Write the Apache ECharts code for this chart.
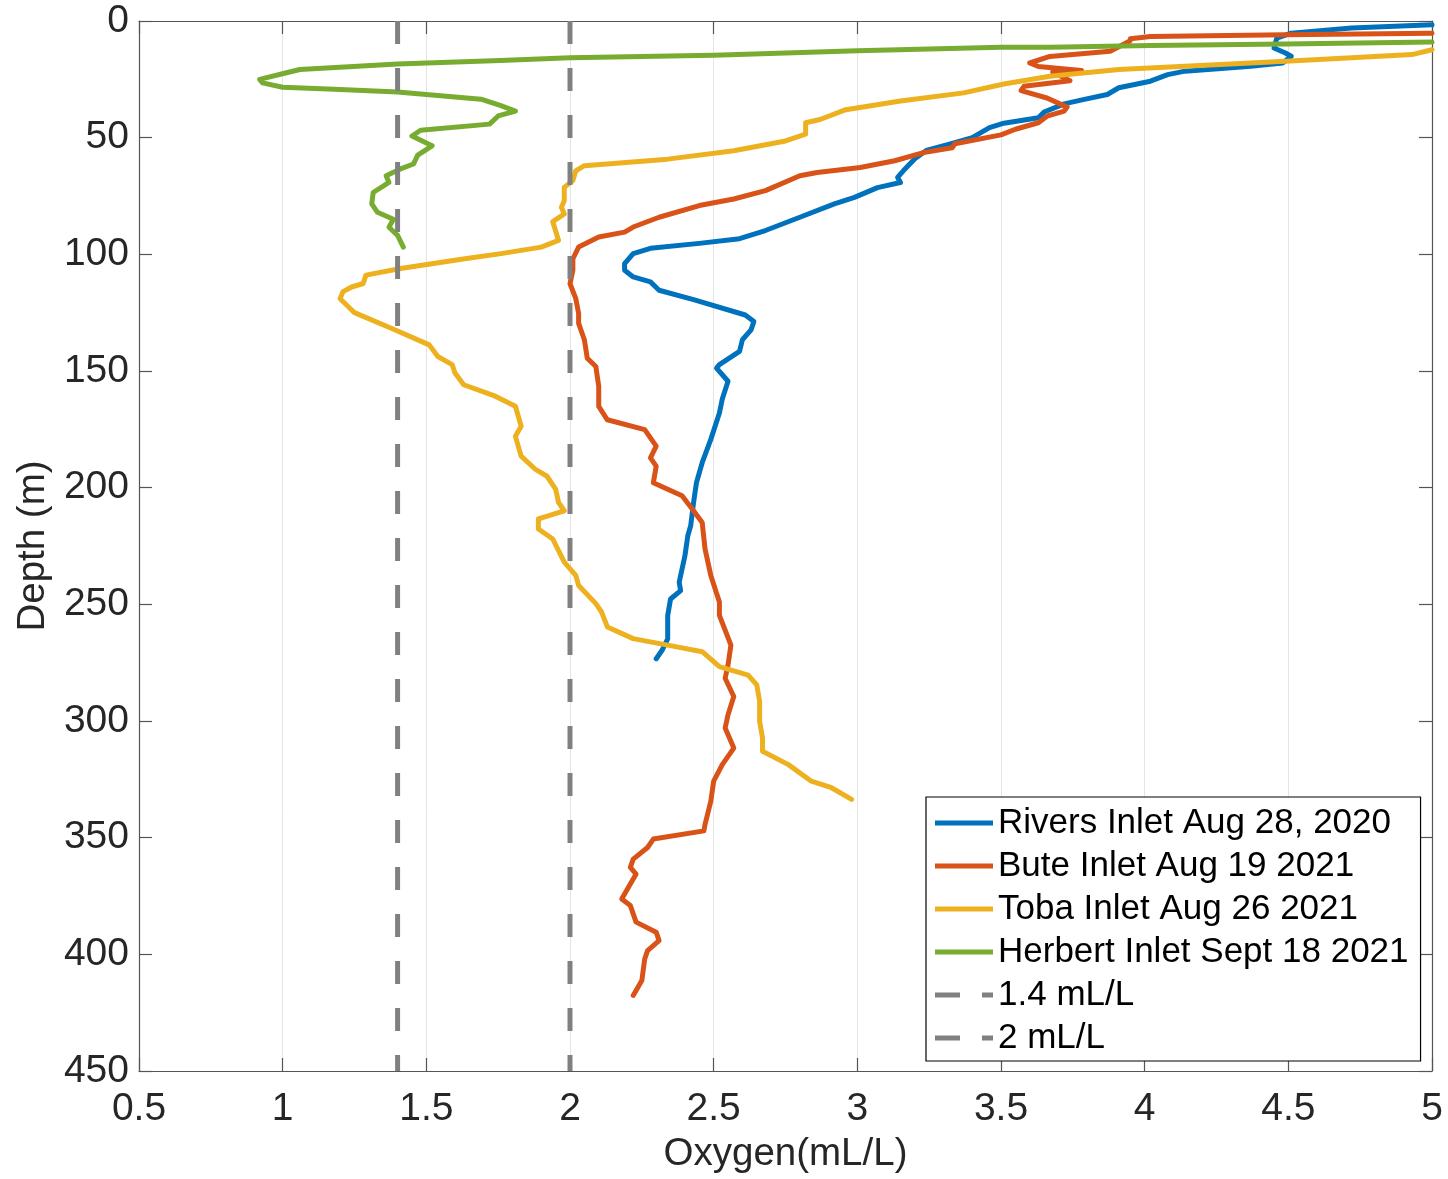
<!DOCTYPE html>
<html>
<head>
<meta charset="utf-8">
<script src="https://cdn.jsdelivr.net/npm/echarts@6/dist/echarts.min.js"></script>
<style>
html,body{margin:0;padding:0;background:#fff;}
#chart{width:1448px;height:1179px;}
</style>
</head>
<body>
<div id="chart"></div>
<script>
// Series names
const seriesNames = ['Rivers Inlet Aug 28, 2020', 'Bute Inlet Aug 19 2021', 'Toba Inlet Aug 26 2021', 'Herbert Inlet Sept 18 2021', '1.4 mL/L', '2 mL/L'];

// Axis settings (ticks)
const xTicks = [0.5, 1, 1.5, 2, 2.5, 3, 3.5, 4, 4.5, 5];
const yTicks = [0, 50, 100, 150, 200, 250, 300, 350, 400, 450];

// [oxygen mL/L, depth m]
const rivers = [
  [5.0,1.6],[4.72,3.0],[4.51,5.2],[4.46,7.3],[4.45,11.6],[4.49,13.7],[4.51,15.1],[4.48,18.0],
  [4.37,19.4],[4.14,21.5],[4.08,23.0],[4.02,25.8],[3.91,28.6],[3.87,31.5],[3.79,33.6],[3.72,35.5],
  [3.65,39.0],[3.63,41.5],[3.51,43.8],[3.46,45.7],[3.40,50.0],[3.33,52.5],[3.24,55.5],[3.20,59.0],
  [3.16,64.2],[3.14,67.0],[3.15,69.2],[3.07,71.4],[2.99,75.6],[2.92,78.4],[2.80,84.1],[2.68,89.8],
  [2.59,93.3],[2.45,95.3],[2.28,97.4],[2.22,99.7],[2.19,104.0],[2.19,106.8],[2.22,109.7],[2.28,111.8],
  [2.31,115.4],[2.43,119.4],[2.61,126.0],[2.64,128.8],[2.63,132.4],[2.60,136.6],[2.59,141.6],[2.52,147.3],
  [2.51,148.8],[2.55,154.4],[2.53,162.0],[2.52,168.0],[2.49,179.3],[2.46,189.3],[2.44,197.9],[2.43,206.4],
  [2.42,216.3],[2.41,220.6],[2.40,229.2],[2.38,240.5],[2.385,244.1],[2.35,247.7],[2.34,254.8],[2.34,264.8],
  [2.32,269.8],[2.30,273.3]
];

const bute = [
  [5.0,5.2],[4.49,5.9],[4.02,6.6],[3.95,7.6],[3.95,8.5],[3.88,13.0],[3.67,15.2],[3.60,18.0],
  [3.63,19.5],[3.78,21.2],[3.68,22.0],[3.74,25.6],[3.58,28.0],[3.57,29.8],[3.66,33.0],[3.73,36.9],
  [3.72,38.6],[3.66,40.8],[3.63,43.6],[3.55,46.4],[3.50,48.8],[3.34,52.6],[3.33,54.3],[3.23,56.4],
  [3.13,59.9],[3.01,62.8],[2.86,64.9],[2.80,66.3],[2.68,72.7],[2.57,76.3],[2.45,79.1],[2.31,84.1],
  [2.22,88.3],[2.19,90.5],[2.10,92.6],[2.03,96.9],[2.01,101.9],[2.01,106.8],[2.00,112.6],[2.02,118.9],
  [2.03,125.3],[2.03,129.6],[2.05,136.6],[2.06,144.5],[2.09,148.1],[2.10,156.6],[2.10,165.2],[2.13,170.9],
  [2.26,175.1],[2.30,182.2],[2.28,187.2],[2.30,190.8],[2.29,197.9],[2.39,203.5],[2.43,209.9],[2.46,214.9],
  [2.47,226.3],[2.49,237.6],[2.52,249.0],[2.52,254.7],[2.56,267.5],[2.55,276.0],[2.54,281.7],[2.57,289.5],
  [2.55,297.3],[2.54,303.0],[2.57,311.6],[2.53,318.7],[2.50,325.8],[2.49,334.4],[2.47,344.3],[2.466,347.1],
  [2.29,350.6],[2.27,354.2],[2.22,359.2],[2.21,362.7],[2.23,365.6],[2.19,374.1],[2.18,376.3],[2.21,379.1],
  [2.23,386.2],[2.30,390.5],[2.31,394.1],[2.27,398.4],[2.26,402.0],[2.25,411.2],[2.22,417.6]
];

const toba = [
  [5.0,12.3],[4.93,14.4],[4.72,15.8],[4.49,17.3],[4.14,19.4],[3.91,20.8],[3.67,23.7],[3.51,27.0],
  [3.37,30.8],[3.15,34.3],[2.96,38.0],[2.87,42.2],[2.82,43.6],[2.82,48.5],[2.75,51.4],[2.57,55.6],
  [2.34,59.2],[2.05,62.0],[2.02,64.2],[2.01,68.4],[1.98,71.3],[1.98,77.0],[1.97,79.8],[1.98,82.7],
  [1.94,86.0],[1.96,94.0],[1.90,96.9],[1.76,99.7],[1.64,101.8],[1.41,106.1],[1.29,108.9],[1.28,112.5],
  [1.24,114.0],[1.21,116.0],[1.20,119.0],[1.25,125.0],[1.39,132.3],[1.51,138.8],[1.54,143.8],[1.59,147.3],
  [1.60,150.9],[1.63,155.9],[1.74,160.8],[1.81,165.1],[1.82,169.4],[1.83,173.7],[1.81,178.0],[1.83,186.5],
  [1.88,192.2],[1.92,195.1],[1.95,200.6],[1.96,206.3],[1.98,209.9],[1.89,213.4],[1.89,217.7],[1.94,222.0],
  [1.98,231.9],[2.02,237.6],[2.03,241.9],[2.09,249.7],[2.11,253.3],[2.13,259.7],[2.22,264.7],[2.34,267.5],
  [2.46,270.3],[2.50,274.6],[2.52,276.7],[2.62,280.3],[2.65,284.5],[2.66,291.6],[2.66,300.2],[2.67,307.3],
  [2.67,313.0],[2.76,318.7],[2.84,325.8],[2.91,328.6],[2.98,333.6]
];

const herbert = [
  [5.0,9.0],[4.49,9.9],[4.02,10.5],[3.67,11.2],[3.50,11.3],[3.0,12.7],[2.5,14.7],[2.0,15.8],
  [1.757,16.9],[1.4,18.4],[1.06,20.8],[1.01,22.3],[0.92,25.0],[0.93,26.5],[1.0,28.4],[1.18,29.3],
  [1.40,30.4],[1.69,33.5],[1.757,36.2],[1.81,38.6],[1.75,40.7],[1.72,44.2],[1.48,46.8],[1.45,49.3],
  [1.52,53.5],[1.47,57.5],[1.455,61.3],[1.41,63.4],[1.36,66.3],[1.37,69.2],[1.315,73.5],[1.31,78.4],
  [1.33,82.0],[1.385,85.0],[1.37,88.4],[1.40,91.9],[1.42,96.9]
];

const threshold14 = [[1.4,0],[1.4,450]];
const threshold2 = [[2,0],[2,450]];

const colors = ['#0072BD', '#D95319', '#EDB120', '#77AC30', '#808080', '#808080'];

const FONT = "'Liberation Sans', Arial, Helvetica, sans-serif";
const AXC = '#262626';
const SOLID_ICON = 'path://M0,0H58V5H0Z';
const DASH_ICON = 'path://M0,0H25V5H0Z M47,0H58V5H47Z';

const chart = echarts.init(document.getElementById('chart'), null, {renderer: 'canvas'});

function lineSeries(name, data, color, dashed) {
  return {
    name: name,
    type: 'line',
    data: data,
    symbol: 'none',
    showSymbol: false,
    smooth: false,
    clip: true,
    animation: false,
    lineStyle: dashed ? {color: color, width: 5, type: [23, 24]} : {color: color, width: 5, join: 'round', cap: 'round'},
    itemStyle: {color: color}
  };
}

const option = {
  animation: false,
  backgroundColor: '#fff',
  color: colors,
  grid: {left: 139, right: 16, top: 21, bottom: 103, containLabel: false},
  xAxis: [
    {
      type: 'value', position: 'bottom',
      min: xTicks[0], max: xTicks[xTicks.length - 1], interval: 0.5,
      name: 'Oxygen(mL/L)', nameLocation: 'middle', nameGap: 64,
      nameTextStyle: {fontFamily: FONT, fontSize: 38.5, color: AXC},
      axisLine: {show: true, onZero: false, lineStyle: {color: '#555', width: 1.2}},
      axisTick: {show: true, inside: true, length: 13, lineStyle: {color: '#555', width: 1.2}},
      axisLabel: {fontFamily: FONT, fontSize: 39, color: AXC, margin: 19},
      splitLine: {show: true, lineStyle: {color: '#e4e4e4', width: 1}}
    },
    {
      type: 'value', position: 'top',
      min: xTicks[0], max: xTicks[xTicks.length - 1], interval: 0.5,
      axisLine: {show: true, onZero: false, lineStyle: {color: '#555', width: 1.2}},
      axisTick: {show: true, inside: true, length: 13, lineStyle: {color: '#555', width: 1.2}},
      axisLabel: {show: false},
      splitLine: {show: false}
    }
  ],
  yAxis: [
    {
      type: 'value', position: 'left', inverse: true,
      min: yTicks[0], max: yTicks[yTicks.length - 1], interval: 50,
      name: 'Depth (m)', nameLocation: 'middle', nameGap: 86,
      nameTextStyle: {fontFamily: FONT, fontSize: 38.5, color: AXC},
      axisLine: {show: true, onZero: false, lineStyle: {color: '#555', width: 1.2}},
      axisTick: {show: true, inside: true, length: 13, lineStyle: {color: '#555', width: 1.2}},
      axisLabel: {fontFamily: FONT, fontSize: 39, color: AXC, margin: 10},
      splitLine: {show: false}
    },
    {
      type: 'value', position: 'right', inverse: true,
      min: yTicks[0], max: yTicks[yTicks.length - 1], interval: 50,
      axisLine: {show: true, onZero: false, lineStyle: {color: '#555', width: 1.2}},
      axisTick: {show: true, inside: true, length: 13, lineStyle: {color: '#555', width: 1.2}},
      axisLabel: {show: false},
      splitLine: {show: false}
    }
  ],
  legend: {
    orient: 'vertical',
    left: 926,
    top: 797,
    padding: [8, 12, 5, 9],
    itemWidth: 58,
    itemHeight: 5,
    itemGap: 7,
    symbolKeepAspect: false,
    backgroundColor: '#fff',
    borderColor: '#000',
    borderWidth: 1.2,
    borderRadius: 0,
    selectedMode: false,
    textStyle: {fontFamily: FONT, fontSize: 35, color: '#000', lineHeight: 36},
    data: [
      {name: seriesNames[0], icon: SOLID_ICON},
      {name: seriesNames[1], icon: SOLID_ICON},
      {name: seriesNames[2], icon: SOLID_ICON},
      {name: seriesNames[3], icon: SOLID_ICON},
      {name: seriesNames[4], icon: DASH_ICON},
      {name: seriesNames[5], icon: DASH_ICON}
    ]
  },
  series: [
    lineSeries(seriesNames[0], rivers, colors[0], false),
    lineSeries(seriesNames[1], bute, colors[1], false),
    lineSeries(seriesNames[2], toba, colors[2], false),
    lineSeries(seriesNames[3], herbert, colors[3], false),
    lineSeries(seriesNames[4], threshold14, colors[4], true),
    lineSeries(seriesNames[5], threshold2, colors[5], true)
  ]
};

chart.setOption(option);
</script>
</body>
</html>
